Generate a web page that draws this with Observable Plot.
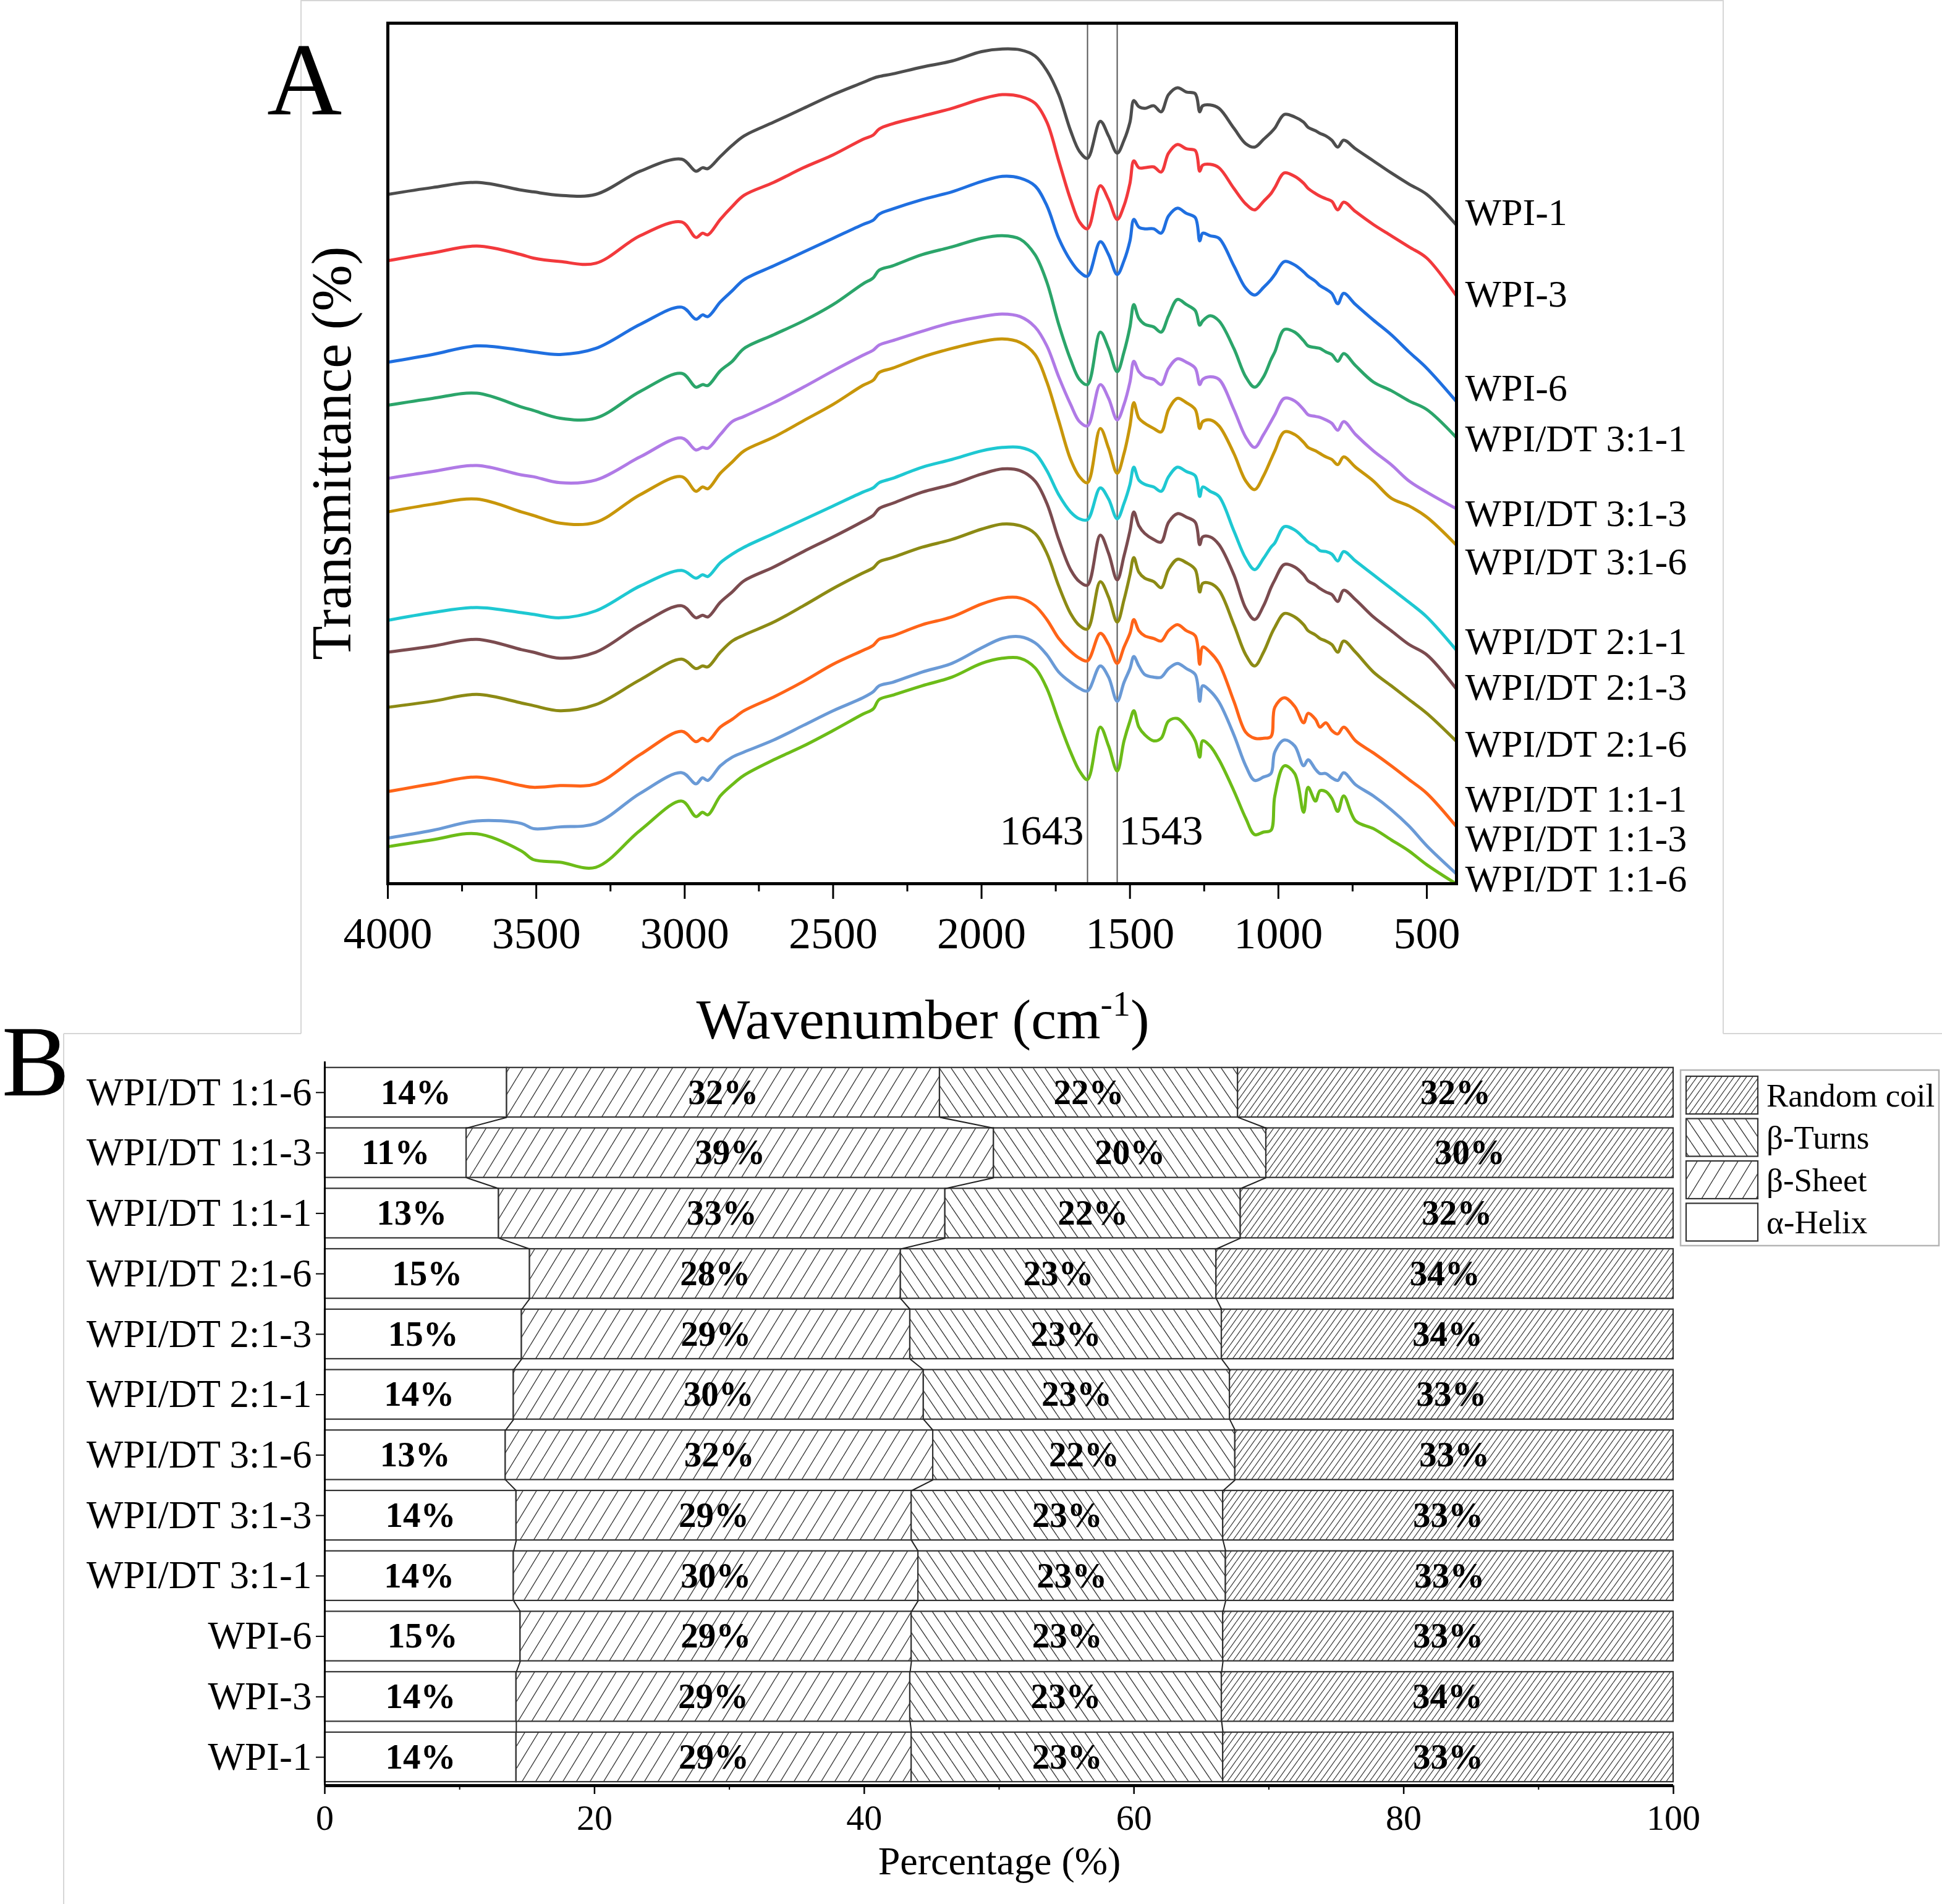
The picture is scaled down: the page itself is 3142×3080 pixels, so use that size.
<!DOCTYPE html>
<html><head><meta charset="utf-8">
<script src="https://cdn.jsdelivr.net/npm/d3@7"></script>
<script src="https://cdn.jsdelivr.net/npm/@observablehq/plot@0.6"></script>
<style>
html,body{margin:0;padding:0;background:#fff;}
#root{position:relative;width:3142px;height:3080px;overflow:hidden;background:#fff;}
#root svg{position:absolute;}
</style></head><body><div id="root"></div>
<script>
// ---------- Panel A data: FTIR spectra (transmittance, arbitrary offset units 0-100) ----------
const wavenumbers = [4000,3850,3700,3550,3510,3420,3300,3150,3010,2962,2940,2922,2880,2840,
 2800,2700,2600,2500,2400,2365,2345,2300,2200,2100,2000,1930,1870,1820,1780,1740,1700,1670,1643,
 1600,1572,1543,1520,1500,1487,1470,1450,1420,1395,1370,1340,1310,1280,1265,1255,1230,1200,1150,1110,
 1080,1050,1025,1012,980,945,915,900,875,860,840,820,800,780,740,680,620,560,500,402];

const samples = ["WPI-1","WPI-3","WPI-6","WPI/DT 3:1-1","WPI/DT 3:1-3","WPI/DT 3:1-6",
 "WPI/DT 2:1-1","WPI/DT 2:1-3","WPI/DT 2:1-6","WPI/DT 1:1-1","WPI/DT 1:1-3","WPI/DT 1:1-6"];

const tWPI1 = [80.1,80.9,81.5,80.6,80.4,80.0,80.1,82.8,84.2,82.8,83.2,83.1,84.5,85.8,
 86.9,88.5,90.1,91.7,93.1,93.6,93.8,94.1,94.9,95.6,96.7,97.0,96.9,96.2,94.5,91.7,87.5,85.1,84.3,
 88.6,86.9,84.9,86.4,88.5,91.0,90.3,90.1,90.4,89.7,91.7,92.5,92.0,91.8,89.7,90.4,90.5,90.1,87.8,86.0,
 85.6,86.5,87.3,87.8,89.4,89.1,88.5,87.9,87.5,87.2,86.9,86.4,85.6,86.4,85.4,84.0,82.6,81.3,80.1,76.6];
const tWPI3 = [72.4,73.3,74.1,73.1,72.7,72.3,72.1,75.3,76.9,75.1,75.6,75.4,77.2,78.7,
 80.0,81.5,83.2,84.7,86.5,87.0,87.7,88.3,89.2,90.1,91.2,91.7,91.5,90.7,88.5,84.0,79.5,76.9,76.1,
 81.1,79.5,77.2,78.8,81.4,84.0,83.2,83.2,83.3,82.7,84.9,85.9,85.4,85.2,82.8,83.5,83.6,83.2,80.8,79.0,
 78.3,79.3,80.2,80.9,82.6,82.2,81.4,80.8,80.2,79.9,79.6,79.3,78.3,79.2,78.1,76.6,75.3,74.0,72.7,68.4];
const tWPI6 = [60.6,61.5,62.5,62.0,61.8,61.5,62.2,65.0,67.0,65.6,66.1,65.9,67.6,68.9,
 70.2,71.8,73.4,75.0,76.6,77.1,77.8,78.4,79.5,80.4,81.6,82.2,82.0,81.1,78.8,75.0,72.4,71.1,70.6,
 74.6,73.1,70.8,72.4,74.7,77.2,76.3,76.1,76.1,75.6,77.6,78.5,77.9,77.4,74.7,75.6,75.3,75.0,71.8,69.2,
 68.4,69.3,70.2,70.8,72.3,71.9,71.1,70.6,70.0,69.5,69.1,68.6,67.4,68.6,67.3,65.5,63.8,61.8,59.9,56.1];
const tDT311 = [55.6,56.4,57.0,55.4,55.0,54.1,54.1,57.2,59.3,57.7,58.0,57.9,59.6,60.7,
 62.2,63.8,65.4,67.3,69.7,70.4,71.3,71.8,73.1,74.0,75.0,75.3,74.9,73.1,69.9,65.0,60.9,58.6,58.0,
 64.1,62.2,59.5,61.8,64.7,67.3,65.7,65.0,64.7,64.1,66.0,67.9,67.3,66.6,64.9,65.4,66.0,65.4,62.2,58.9,
 57.7,58.9,60.9,61.8,64.4,64.1,63.1,62.5,62.3,62.2,61.8,61.5,60.7,61.6,60.2,58.3,57.3,56.1,55.1,51.9];
const tDT313 = [47.1,47.9,48.6,47.5,47.3,46.6,46.9,49.6,51.8,50.4,50.7,50.6,52.2,53.7,
 54.3,55.9,57.7,59.6,61.4,62.0,62.6,63.1,64.2,65.2,65.9,66.2,65.9,64.7,62.5,58.9,55.7,53.7,53.2,
 58.0,56.4,53.9,55.7,58.3,60.7,59.5,58.9,58.6,58.0,59.9,61.0,60.6,59.9,58.0,58.6,58.9,58.6,55.1,51.9,
 50.7,52.2,53.7,54.5,56.4,56.1,55.1,54.5,54.3,54.2,53.9,53.5,52.7,53.7,52.2,50.3,48.7,46.8,45.5,43.6];
const tDT316 = [43.2,44.1,44.7,43.2,42.8,41.9,42.0,45.2,47.3,45.6,46.1,45.9,47.7,49.0,
 50.3,51.9,53.8,55.7,57.9,58.5,59.4,59.9,61.2,62.2,63.0,63.3,62.9,61.5,58.3,53.8,49.3,47.3,46.6,
 52.9,50.6,47.7,50.0,53.2,55.9,54.1,53.5,52.9,52.5,55.1,56.4,55.9,55.1,52.9,53.7,53.9,53.2,50.0,46.8,
 45.8,47.4,49.3,50.3,52.5,52.2,51.3,50.7,50.3,50.0,49.6,49.3,48.7,49.6,48.4,46.8,44.8,43.9,42.6,39.4];
const tDT211 = [30.6,31.5,32.1,31.5,31.3,30.9,31.7,34.6,36.4,35.5,35.9,35.7,37.3,38.3,
 39.1,40.7,42.3,43.9,45.5,46.0,46.6,47.1,48.4,49.3,50.3,50.7,50.7,50.0,48.0,45.2,43.2,42.4,42.3,
 46.0,44.7,42.4,44.2,46.4,48.4,46.9,46.4,46.1,45.6,47.3,48.4,47.9,47.4,45.0,46.1,45.6,45.0,41.0,37.8,
 36.5,37.8,39.1,39.6,41.5,41.1,40.2,39.7,39.2,38.7,38.6,38.3,37.5,38.6,37.5,35.9,34.3,32.7,31.0,27.2];
const tDT213 = [26.9,27.6,28.4,27.2,26.9,26.2,26.9,30.1,32.3,30.9,31.2,31.0,32.7,33.9,
 35.2,36.8,38.6,40.3,42.1,42.8,43.6,44.2,45.5,46.4,47.6,48.2,48.0,46.8,44.2,40.0,36.5,35.1,34.7,
 40.5,38.4,35.3,38.1,41.0,43.2,41.6,40.7,40.0,39.7,42.0,43.0,42.6,42.0,39.4,40.3,40.3,39.4,35.9,32.0,
 30.7,32.3,34.4,35.3,37.1,36.8,35.9,35.2,34.7,34.3,33.9,33.6,32.8,34.1,33.0,31.0,29.4,27.8,26.6,22.7];
const tDT216 = [20.5,21.2,22.0,21.0,20.7,20.1,20.8,23.7,26.1,25.0,25.3,25.2,26.9,28.2,
 28.9,30.4,32.3,34.3,36.1,36.7,37.4,37.9,39.1,40.0,41.2,41.8,41.6,40.7,38.4,34.6,31.4,30.0,29.6,
 35.1,33.3,30.4,33.0,35.9,37.9,36.2,35.5,35.1,34.4,36.5,37.7,37.3,36.5,33.9,34.9,34.9,34.1,30.1,26.6,
 25.3,26.9,28.9,29.8,31.4,31.0,30.1,29.4,28.9,28.5,28.2,27.8,26.9,28.2,26.9,24.6,23.0,21.4,19.8,16.6];
const tDT111 = [10.7,11.6,12.4,11.4,11.2,11.4,11.6,15.0,17.7,16.5,16.9,16.6,18.2,19.1,
 20.1,21.7,23.5,25.5,27.1,27.7,28.4,28.8,30.1,31.0,32.5,33.2,33.2,32.3,30.7,28.5,27.0,26.2,25.9,
 29.1,27.8,25.6,27.5,29.1,30.7,29.4,28.8,28.5,28.2,29.4,30.1,29.4,28.8,25.5,27.5,26.9,25.6,21.2,17.6,
 16.9,16.9,17.1,20.5,21.6,20.6,18.7,19.8,19.1,18.2,18.7,17.8,17.4,18.2,16.6,15.2,13.7,12.1,10.5,6.7];
const tDT113 = [5.3,6.2,7.3,7.0,6.4,6.6,7.0,10.5,12.9,11.6,12.3,12.0,13.7,14.7,
 15.3,16.7,18.4,20.1,21.6,22.3,23.0,23.4,24.6,25.6,27.4,28.5,28.7,28.0,26.6,24.6,23.4,22.7,22.4,
 25.3,24.0,21.2,23.4,25.0,26.4,25.3,24.3,24.0,24.0,25.0,25.6,25.0,24.3,21.2,23.0,22.4,21.1,17.3,13.7,
 12.0,12.4,12.8,15.3,16.7,16.0,13.7,14.4,13.3,12.8,12.8,12.3,12.0,12.9,11.5,10.2,8.6,6.7,4.4,1.2];
const tDT116 = [4.3,5.1,5.8,3.8,2.8,2.5,1.9,6.2,9.6,7.8,8.3,8.0,10.2,11.5,
 12.6,14.4,16.0,17.8,19.7,20.3,21.4,21.9,23.0,24.0,25.6,26.2,26.2,25.1,22.7,18.9,15.3,13.1,12.1,
 18.2,16.0,13.1,16.6,18.9,20.1,18.2,17.3,16.6,16.9,18.9,19.2,18.2,16.6,14.7,16.6,16.0,14.4,10.8,7.6,
 5.7,6.0,6.2,10.2,13.7,12.8,8.3,11.2,9.6,10.8,10.7,9.9,8.4,10.2,7.3,6.4,5.1,3.8,2.2,0.0];

const spectraList = [tWPI1,tWPI3,tWPI6,tDT311,tDT313,tDT316,tDT211,tDT213,tDT216,tDT111,tDT113,tDT116];
const lineColors = ["#4d4d4d","#f2393c","#1f6fe0","#2ba56a","#b07ae6","#c8960a",
 "#1ec8d2","#7b4b4f","#8c8a14","#ff6418","#6a9ad6","#6cbc18"];
// label placement levels (same transmittance units)
const labelLevels = [78.0,68.5,57.6,51.7,43.0,37.4,28.1,22.8,16.2,9.8,5.2,0.5];
const bandMarks = [1643, 1543];
const majorTicksA = [4000,3500,3000,2500,2000,1500,1000,500];
const minorTicksA = [3750,3250,2750,2250,1750,1250,750];

// ---------- Panel B data: secondary structure (%) ----------
const rows = samples; // bottom (WPI-1) to top (WPI/DT 1:1-6)
const helix = [14.2,14.2,14.5,14.0,14.2,13.4,14.0,14.6,15.2,12.9,10.5,13.5];
const sheet = [29.3,29.2,29.0,30.0,29.3,31.7,30.4,28.8,27.5,33.1,39.1,32.1];
const turns = [23.1,23.1,23.1,22.8,23.1,22.4,22.7,23.1,23.4,21.9,20.2,22.1];
const coil  = [33.4,33.5,33.4,33.2,33.4,32.5,32.9,33.5,33.9,32.1,30.2,32.3];
const structures = ["α-Helix","β-Sheet","β-Turns","Random coil"];
const majorTicksB = [0,20,40,60,80,100];
const minorTicksB = [10,30,50,70,90];

const FONT = "Liberation Serif";
const root = document.getElementById("root");

// ---------- overlay svg (defs, titles, legend, frames) ----------
const ov = d3.create("svg").attr("width",3142).attr("height",3080)
  .style("left","0px").style("top","0px").style("z-index",5)
  .attr("font-family", FONT);
const defs = ov.append("defs");
function hatch(id, w, h, dir, sw) {
  const p = defs.append("pattern").attr("id", id).attr("patternUnits","userSpaceOnUse")
    .attr("width", w).attr("height", h);
  p.append("rect").attr("width", w).attr("height", h).attr("fill", "white");
  const d = dir === "/"
    ? `M${-w},${h}L0,0M0,${h}L${w},0M${w},${h}L${2*w},0`
    : `M${-w},0L0,${h}M0,0L${w},${h}M${w},0L${2*w},${h}`;
  p.append("path").attr("d", d).attr("stroke", "#3a3a3a").attr("stroke-width", sw).attr("fill","none");
}
hatch("pSheet", 22, 36, "/", 1.4);
hatch("pTurns", 19, 28, "\\", 1.4);
hatch("pCoil", 10, 14, "/", 1.3);
const fills = ["white", "url(#pSheet)", "url(#pTurns)", "url(#pCoil)"];

// ---------- Panel A ----------
const specData = [];
samples.forEach((s, i) => {
  const vals = spectraList[i];
  wavenumbers.forEach((wn, j) => { if (vals[j] != null) specData.push({sample: s, wn, t: vals[j]}); });
});
const plotA = Plot.plot({
  width: 2790, height: 1672,
  marginLeft: 627, marginRight: 434, marginTop: 37, marginBottom: 243,
  style: {background: "transparent", maxWidth: "none", overflow: "visible", fontFamily: FONT, color: "#000"},
  x: {domain: [4000, 400], axis: null},
  y: {domain: [0, 100], axis: null},
  color: {domain: samples, range: lineColors},
  marks: [
    Plot.ruleX(bandMarks, {stroke: "#555", strokeWidth: 2}),
    Plot.line(specData, {x: "wn", y: "t", z: "sample", stroke: "sample", strokeWidth: 5, clip: true, curve: "catmull-rom", strokeLinejoin: "round"}),
    Plot.frame({stroke: "#000", strokeWidth: 5}),
    Plot.axisX(majorTicksA, {anchor: "bottom", tickSize: 25, tickPadding: 28, fontSize: 72, strokeWidth: 3, label: null, tickFormat: d => String(d), fill: "#000"}),
    Plot.axisX(minorTicksA, {anchor: "bottom", tickSize: 13, strokeWidth: 3, text: null, label: null}),
    Plot.text(samples.map((s, i) => ({s, ly: labelLevels[i]})), {y: "ly", text: "s", frameAnchor: "right", dx: 14, textAnchor: "start", fontSize: 62, fill: "#000"}),
    Plot.text([bandMarks[0]], {x: d => d, text: d => String(d), frameAnchor: "bottom", dy: -64, dx: -6, textAnchor: "end", fontSize: 68, fill: "#000"}),
    Plot.text([bandMarks[1]], {x: d => d, text: d => String(d), frameAnchor: "bottom", dy: -64, dx: 3, textAnchor: "start", fontSize: 68, fill: "#000"})
  ]
});
plotA.style.left = "0px"; plotA.style.top = "0px";
root.appendChild(plotA);

// ---------- Panel B ----------
const series = [helix, sheet, turns, coil];
const segs = [];
const cums = [];
rows.forEach((r, i) => {
  let acc = 0; const c = [];
  series.forEach((s, k) => {
    segs.push({row: i, k, x1: acc, x2: acc + s[i], v: s[i]});
    acc += s[i]; c.push(acc);
  });
  cums.push(c);
});
const half = 0.41;
const links = [];
for (let i = 0; i < rows.length - 1; i++) {
  for (let k = 0; k < 3; k++) {
    links.push({x1: cums[i][k], y1: i + half, x2: cums[i + 1][k], y2: i + 1 - half});
  }
}
const yLo = -0.47, yHi = 11.51;
const plotB = Plot.plot({
  width: 3142, height: 1408,
  marginLeft: 525, marginRight: 435, marginTop: 45, marginBottom: 192,
  style: {background: "transparent", maxWidth: "none", overflow: "visible", fontFamily: FONT, color: "#000"},
  x: {domain: [0, 100], axis: null},
  y: {domain: [yLo, yHi], axis: null},
  marks: [
    ...series.map((s, k) => Plot.rectX(segs.filter(d => d.k === k), {
      x1: "x1", x2: "x2", y1: d => d.row - half, y2: d => d.row + half,
      fill: fills[k], stroke: "#333", strokeWidth: 2.2
    })),
    Plot.link(links, {x1: "x1", y1: "y1", x2: "x2", y2: "y2", stroke: "#222", strokeWidth: 2}),
    Plot.text(segs, {x: d => (d.x1 + d.x2) / 2, y: "row", text: d => Math.round(d.v) + "%", fontSize: 57, fontWeight: "bold", fill: "#000"}),
    Plot.ruleX([0], {stroke: "#000", strokeWidth: 3}),
    Plot.ruleY([yLo], {stroke: "#000", strokeWidth: 5}),
    Plot.axisY(d3.range(rows.length), {anchor: "left", tickSize: 14, tickPadding: 7, fontSize: 63, strokeWidth: 2, label: null, tickFormat: i => rows[i], fill: "#000"}),
    Plot.axisX(majorTicksB, {anchor: "bottom", tickSize: 14, tickPadding: 16, fontSize: 58, strokeWidth: 2.5, label: null, fill: "#000"}),
    Plot.axisX(minorTicksB, {anchor: "bottom", tickSize: 7, strokeWidth: 2, text: null, label: null})
  ]
});
plotB.style.left = "0px"; plotB.style.top = "1672px";
root.appendChild(plotB);

// ---------- overlay: panel frames, titles, legend ----------
const g = ov.append("g");
const gray = "#d6d6d6";
[[487,0,487,1672],[2788,0,2788,1672],[487,1,2788,1],[103,1672,487,1672],[2788,1672,3142,1672],[103,1672,103,3080]]
  .forEach(([x1,y1,x2,y2]) => g.append("line").attr("x1",x1).attr("y1",y1).attr("x2",x2).attr("y2",y2).attr("stroke",gray).attr("stroke-width",2));

g.append("text").attr("x", 432).attr("y", 185).attr("font-size", 168).text("A");
g.append("text").attr("x", 3).attr("y", 1772).attr("font-size", 164).text("B");
g.append("text").attr("transform", "translate(567,733) rotate(-90)").attr("text-anchor","middle")
  .attr("font-size", 90).text("Transmittance (%)");
const wt = g.append("text").attr("x", 1493).attr("y", 1680).attr("text-anchor","middle").attr("font-size", 92);
wt.append("tspan").text("Wavenumber (cm");
wt.append("tspan").attr("font-size", 58).attr("dy", -37).text("-1");
wt.append("tspan").attr("dy", 37).text(")");
g.append("text").attr("x", 1617).attr("y", 3032).attr("text-anchor","middle").attr("font-size", 64).text("Percentage (%)");

// legend (top to bottom: Random coil, β-Turns, β-Sheet, α-Helix)
const lg = g.append("g");
lg.append("rect").attr("x", 2719).attr("y", 1731).attr("width", 418).attr("height", 284)
  .attr("fill", "white").attr("stroke", "#b5b5b5").attr("stroke-width", 2.5);
const legendOrder = [3, 2, 1, 0];
legendOrder.forEach((k, j) => {
  const y0 = 1741 + j * 68.5;
  lg.append("rect").attr("x", 2728).attr("y", y0).attr("width", 116).attr("height", 61)
    .attr("fill", fills[k]).attr("stroke", "#333").attr("stroke-width", 2.2);
  lg.append("text").attr("x", 2858).attr("y", y0 + 30.5).attr("dy", "0.34em").attr("font-size", 53).text(structures[k]);
});
root.appendChild(ov.node());
</script></body></html>
